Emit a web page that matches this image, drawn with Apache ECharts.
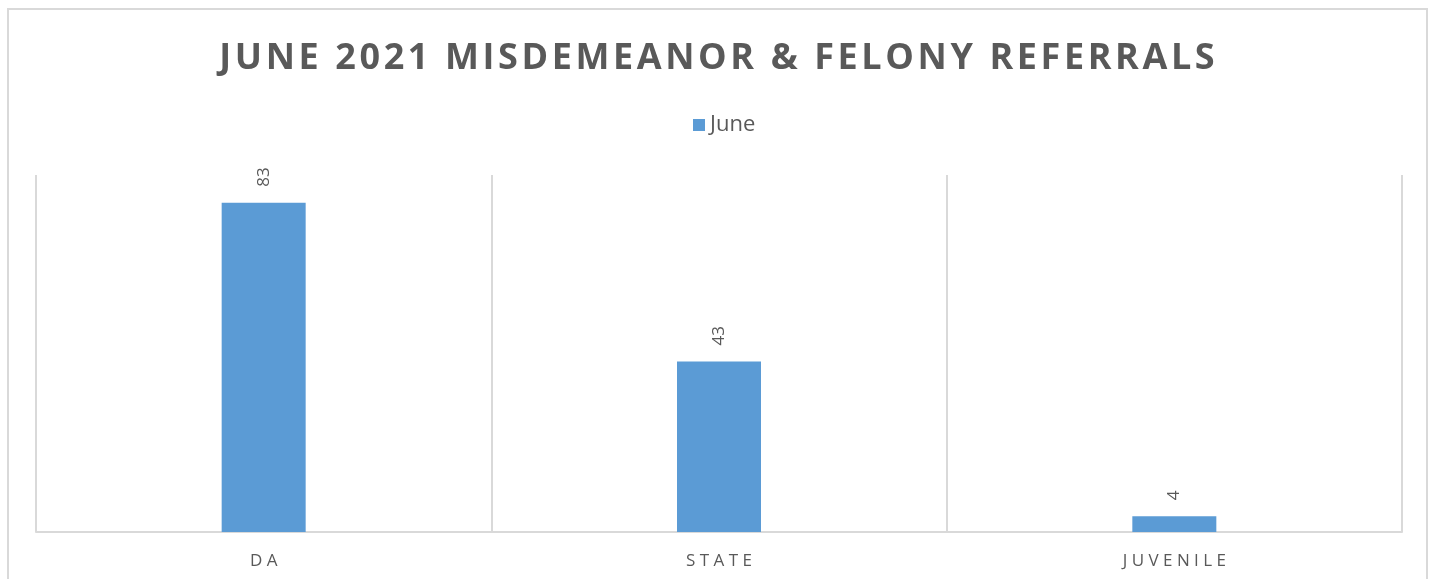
<!DOCTYPE html>
<html>
<head>
<meta charset="utf-8">
<script src="https://cdn.jsdelivr.net/npm/echarts@6/dist/echarts.min.js"></script>
<style>
  html, body { margin: 0; padding: 0; background: #fff; overflow: hidden; }
  #frame { position: absolute; left: 7px; top: 8px; width: 1421px; height: 640px; border: 2px solid #d9d9d9; box-sizing: border-box; }
  #main { position: absolute; left: 0; top: 0; width: 1434px; height: 579px; }
</style>
</head>
<body>
<div id="frame"></div>
<div id="main"></div>
<script>
var categories = ['DA', 'STATE', 'JUVENILE'];
var juneValues = [83, 43, 4];
var seriesName = 'June';
var chartTitle = 'JUNE 2021 MISDEMEANOR & FELONY REFERRALS';

// 初始化图表
var chart = echarts.init(document.getElementById('main'));

// 字母间距
function spaced(s, sep) {
    return s.split('').join(sep);
}

var option = {
    animation: false,
    title: {
        text: spaced(chartTitle, '\u200A'),
        left: 'center',
        top: 36,
        textStyle: {
            fontFamily: 'Open Sans',
            fontSize: 36,
            fontWeight: 'bold',
            color: '#595959'
        }
    },
    legend: {
        data: [seriesName],
        top: 109,
        left: 688,
        itemWidth: 12,
        itemHeight: 12,
        itemGap: 5,
        icon: 'rect',
        textStyle: {
            fontFamily: 'Open Sans',
            fontSize: 22,
            color: '#595959',
            padding: [0, 0, 0, 0]
        }
    },
    grid: {
        left: 36,
        right: 32,
        top: 175,
        bottom: 47
    },
    xAxis: {
        type: 'category',
        data: categories,
        axisLine: { lineStyle: { color: '#d9d9d9', width: 2 } },
        axisTick: { show: false },
        splitLine: { show: true, lineStyle: { color: '#d9d9d9', width: 2 } },
        axisLabel: {
            margin: 21,
            fontFamily: 'Open Sans',
            fontSize: 17,
            color: '#595959',
            formatter: function (v) { return spaced(v, ' '); }
        }
    },
    yAxis: {
        type: 'value',
        min: 0,
        max: 90,
        show: false,
        splitLine: { show: false }
    },
    series: [
        {
            name: seriesName,
            type: 'bar',
            data: juneValues,
            barWidth: 84,
            itemStyle: { color: '#5b9bd5' },
            label: {
                show: true,
                position: 'top',
                rotate: 90,
                distance: 16,
                align: 'left',
                verticalAlign: 'middle',
                fontFamily: 'Open Sans',
                fontSize: 17,
                color: '#595959'
            }
        }
    ]
};

chart.setOption(option);
</script>
</body>
</html>
